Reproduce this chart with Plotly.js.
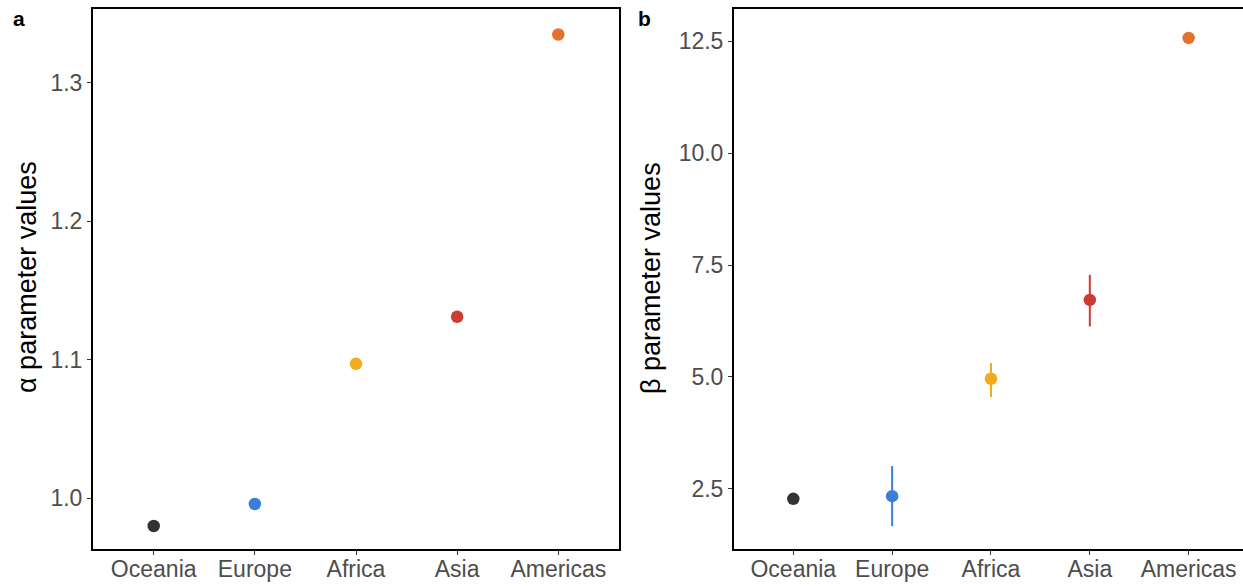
<!DOCTYPE html>
<html><head><meta charset="utf-8">
<script src="https://cdn.plot.ly/plotly-3.0.1.min.js"></script>
<style>html,body{margin:0;padding:0;overflow:hidden;background:#fff}</style>
</head><body><div id="chart" style="width:1243px;height:586px"></div>
<script>
const regions = ["Oceania", "Europe", "Africa", "Asia", "Americas"];
const colors = ["#333333", "#3A80D9", "#F5A91C", "#CC3B35", "#E2722F"];
const alphaValues = [0.9798, 0.9957, 1.097, 1.131, 1.335];
const betaValues = [2.28, 2.34, 4.96, 6.72, 12.57];
const betaUpper = [2.28, 3.01, 5.31, 7.28, 12.57];
const betaLower = [2.28, 1.67, 4.55, 6.13, 12.57];

const traces = [];
regions.forEach((r, i) => {
  traces.push({
    type: "scatter", mode: "markers", x: [r], y: [alphaValues[i]],
    xaxis: "x", yaxis: "y",
    marker: {color: colors[i], size: 12.5}, showlegend: false
  });
  traces.push({
    type: "scatter", mode: "markers", x: [r], y: [betaValues[i]],
    xaxis: "x2", yaxis: "y2",
    marker: {color: colors[i], size: 12.5}, showlegend: false,
    error_y: {type: "data", symmetric: false,
      array: [betaUpper[i] - betaValues[i]],
      arrayminus: [betaValues[i] - betaLower[i]],
      color: colors[i], thickness: 2, width: 0, visible: (betaUpper[i] - betaLower[i]) > 0.01}
  });
});

const FAM = "Liberation Sans, Arial, Helvetica, sans-serif";
const tickFont = {family: FAM, size: 23, color: "#4D4D4D"};
const xTickFont = {family: FAM, size: 23, color: "#4D4D4D"};
const titleFont = {family: FAM, size: 27, color: "#000"};
const axBase = {
  showgrid: false, zeroline: false, showline: true, linecolor: "#000", linewidth: 2, mirror: true,
  ticks: "outside", ticklen: 4, tickwidth: 1, tickcolor: "#333", tickfont: tickFont
};
const yDomain = [37/586, 577/586];
const layout = {
  width: 1243, height: 586,
  margin: {l: 0, r: 0, t: 0, b: 0},
  paper_bgcolor: "#fff", plot_bgcolor: "#fff",
  xaxis: Object.assign({}, axBase, {domain: [93/1243, 619/1243], type: "category",
    categoryorder: "array", categoryarray: regions, range: [-0.6, 4.6], anchor: "y",
    tickfont: xTickFont, ticklabelstandoff: -6}),
  yaxis: Object.assign({}, axBase, {domain: yDomain, range: [0.9632, 1.3534],
    tickvals: [1.0, 1.1, 1.2, 1.3], ticktext: ["1.0", "1.1", "1.2", "1.3"], anchor: "x"}),
  xaxis2: Object.assign({}, axBase, {domain: [734/1243, 1], type: "category",
    categoryorder: "array", categoryarray: regions, range: [-0.6, 4.55], anchor: "y2",
    tickfont: xTickFont, ticklabelstandoff: -6}),
  yaxis2: Object.assign({}, axBase, {domain: yDomain, range: [1.16, 13.215],
    tickvals: [2.5, 5.0, 7.5, 10.0, 12.5], ticktext: ["2.5", "5.0", "7.5", "10.0", "12.5"], anchor: "x2"}),
  annotations: [
    {text: "<b>a</b>", xref: "paper", yref: "paper", x: 11/1243, y: 1 - 5/586, xanchor: "left", yanchor: "top",
     showarrow: false, font: {family: FAM, size: 21, color: "#000"}},
    {text: "<b>b</b>", xref: "paper", yref: "paper", x: 636/1243, y: 1 - 5/586, xanchor: "left", yanchor: "top",
     showarrow: false, font: {family: FAM, size: 21, color: "#000"}},
    {text: "α parameter values", xref: "paper", yref: "paper", x: 27/1243, y: 1 - 277/586,
     xanchor: "center", yanchor: "middle", textangle: -90, showarrow: false, font: titleFont},
    {text: "β parameter values", xref: "paper", yref: "paper", x: 651/1243, y: 1 - 278/586,
     xanchor: "center", yanchor: "middle", textangle: -90, showarrow: false, font: titleFont}
  ]
};
Plotly.newPlot("chart", traces, layout, {displayModeBar: false, staticPlot: true});
</script></body></html>
